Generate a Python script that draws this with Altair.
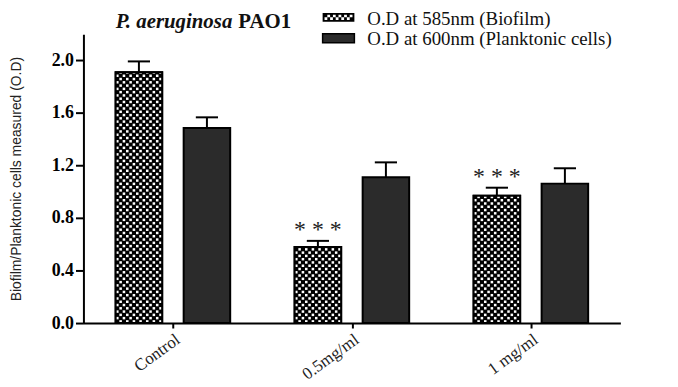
import json
import math
import altair as alt
import pandas as pd

# ---------------- data ----------------
categories = ["Control", "0.5mg/ml", "1 mg/ml"]
series = ["O.D at 585nm (Biofilm)", "O.D at 600nm (Planktonic cells)"]
biofilm = [1.91, 0.58, 0.97]
biofilm_err = [0.083, 0.046, 0.061]
planktonic = [1.485, 1.11, 1.062]
planktonic_err = [0.082, 0.114, 0.117]
stars = ["", "* * *", "* * *"]
y_ticks = [0.0, 0.4, 0.8, 1.2, 1.6, 2.0]
title_italic = "P. aeruginosa"
title_bold = "PAO1"
y_title = "Biofilm/Planktonic cells measured (O.D)"

# ---------------- layout / style ----------------
W, H = 541, 291
Y_MAX = 2.2
X_DOM = [-0.5, len(categories) - 0.5]
BAR_W = 0.26
OFFS = {series[0]: -0.32, series[1]: 0.06}
CAP_HALF = 0.062
SERIF = "Liberation Serif"
SANS = "Liberation Sans"
DARK = "#2b2b2b"

rows = []
for i, c in enumerate(categories):
    for s, vals, errs in ((series[0], biofilm, biofilm_err), (series[1], planktonic, planktonic_err)):
        x0 = i + OFFS[s]
        rows.append(dict(cat=c, series=s, value=vals[i], err=errs[i],
                         top=vals[i] + errs[i], x0=x0, x1=x0 + BAR_W,
                         xc=x0 + BAR_W / 2, cap0=x0 + BAR_W / 2 - CAP_HALF,
                         cap1=x0 + BAR_W / 2 + CAP_HALF,
                         star=stars[i] if s == series[0] else ""))
df = pd.DataFrame(rows)
bio_df = df[df.series == series[0]]

# checkerboard cells (white squares over the black biofilm bars)
y_per_px = Y_MAX / H
n_cols = 14
cw = BAR_W / n_cols
ch = 3.3 * y_per_px
inset = 0.12
cells = []
for i, v in enumerate(biofilm):
    left = i + OFFS[series[0]]
    n_rows = int(math.ceil(v / ch))
    for r in range(n_rows):
        for c in range(n_cols):
            if (r + c) % 2 == 1:
                y0 = r * ch + inset * ch
                if y0 >= v:
                    continue
                cells.append(dict(cx0=left + (c + inset) * cw, cx1=left + (c + 1 - inset) * cw,
                                  cy0=y0, cy1=min((r + 1 - inset) * ch, v)))
cells_df = pd.DataFrame(cells)

xs = alt.Scale(domain=X_DOM, nice=False, zero=False)
ys = alt.Scale(domain=[0, Y_MAX], nice=False)
label_expr = json.dumps(categories) + "[datum.value]"
xa = alt.Axis(values=[0, 1, 2], labelExpr=label_expr, title=None, grid=False,
              labelAngle=-36, labelAlign="right", labelBaseline="top",
              labelFont=SERIF, labelFontSize=17, labelColor="#222",
              labelPadding=3, tickSize=5, tickWidth=2, tickColor="black",
              domainColor="black", domainWidth=2)
ya = alt.Axis(values=y_ticks, format=".1f", title=y_title, grid=False,
              labelFont=SERIF, labelFontSize=18, labelFontWeight="bold",
              labelColor="black", labelPadding=2, tickSize=8, tickWidth=2,
              tickColor="black", domainColor="black", domainWidth=2,
              titleFont=SANS, titleFontSize=14, titleFontWeight="normal",
              titleColor="#222", titleX=-67, titleY=H / 2, titleAngle=-90,
              titleAlign="center", titleBaseline="middle")


def X(f):
    return alt.X(f, type="quantitative", scale=xs, axis=xa)


def Y(f):
    return alt.Y(f, type="quantitative", scale=ys, axis=ya)


base = alt.Chart(df)

bars = base.mark_rect(stroke="black", strokeWidth=2).encode(
    x=X("x0"), x2="x1", y=Y("value"), y2=alt.datum(0),
    fill=alt.Fill("series:N", scale=alt.Scale(domain=series, range=["black", DARK]), legend=None),
)

checker = alt.Chart(cells_df).mark_rect(fill="white", strokeWidth=0).encode(
    x=X("cx0"), x2="cx1", y=Y("cy0"), y2="cy1",
)

outline = alt.Chart(bio_df).mark_rect(fillOpacity=0, stroke="black", strokeWidth=2).encode(
    x=X("x0"), x2="x1", y=Y("value"), y2=alt.datum(0),
)

stem = base.mark_rule(color="black", strokeWidth=2).encode(
    x=X("xc"), y=Y("value"), y2="top",
)
cap = base.mark_rule(color="black", strokeWidth=2).encode(
    x=X("cap0"), x2="cap1", y=Y("top"),
)
star_txt = alt.Chart(bio_df).mark_text(font=SERIF, fontSize=24, color="#222",
                                        baseline="alphabetic", dy=-4).encode(
    x=X("xc"), y=Y("top"), text="star:N",
)


# ---------------- legend (drawn by hand to get the checker swatch) ----------------
def checker_path():
    parts = ["M-1,-0.28H1V0.28H-1Z", "M-0.88,-0.16V0.16H0.88V-0.16Z"]
    nc, nr = 10, 2
    w = 1.76 / nc
    h = 0.32 / nr
    for r in range(nr):
        for c in range(nc):
            if (r + c) % 2 == 0:
                x0 = -0.88 + c * w
                y0 = -0.16 + r * h
                parts.append(f"M{x0:.3f},{y0:.3f}h{w:.3f}v{h:.3f}h{-w:.3f}Z")
    return "".join(parts)


leg_df = pd.DataFrame({"label": series})
sw1 = alt.Chart(leg_df.iloc[[0]]).mark_point(filled=True, opacity=1, strokeWidth=0).encode(
    x=alt.value(257), y=alt.value(-17), shape=alt.value(checker_path()),
    size=alt.value(1024), fill=alt.value("black"),
)
sw2 = alt.Chart(leg_df.iloc[[1]]).mark_point(filled=True, opacity=1, stroke="black", strokeWidth=1.5).encode(
    x=alt.value(257), y=alt.value(4), shape=alt.value("M-1,-0.28H1V0.28H-1Z"),
    size=alt.value(1024), fill=alt.value(DARK),
)
lt1 = alt.Chart(leg_df.iloc[[0]]).mark_text(font=SERIF, fontSize=19, align="left", baseline="middle", color="#111").encode(
    x=alt.value(286), y=alt.value(-15), text="label:N")
lt2 = alt.Chart(leg_df.iloc[[1]]).mark_text(font=SERIF, fontSize=19, align="left", baseline="middle", color="#111").encode(
    x=alt.value(286), y=alt.value(5), text="label:N")

title_df = pd.DataFrame({"a": [title_italic], "b": [title_bold]})
t1 = alt.Chart(title_df).mark_text(font=SERIF, fontSize=21, fontStyle="italic", fontWeight="bold",
                                   align="right", baseline="middle", color="#111").encode(
    x=alt.value(150), y=alt.value(-12), text="a:N")
t2 = alt.Chart(title_df).mark_text(font=SERIF, fontSize=21, fontWeight="bold",
                                   align="left", baseline="middle", color="#111").encode(
    x=alt.value(156), y=alt.value(-12), text="b:N")

chart = alt.layer(bars, checker, outline, stem, cap, star_txt, sw1, sw2, lt1, lt2, t1, t2).properties(
    width=W, height=H,
    autosize=alt.AutoSizeParams(type="none"),
    padding={"left": 76, "top": 25, "right": 50, "bottom": 63},
).configure_view(stroke=None)

chart.save("out.html", embed_options={"renderer": "svg", "actions": False})
